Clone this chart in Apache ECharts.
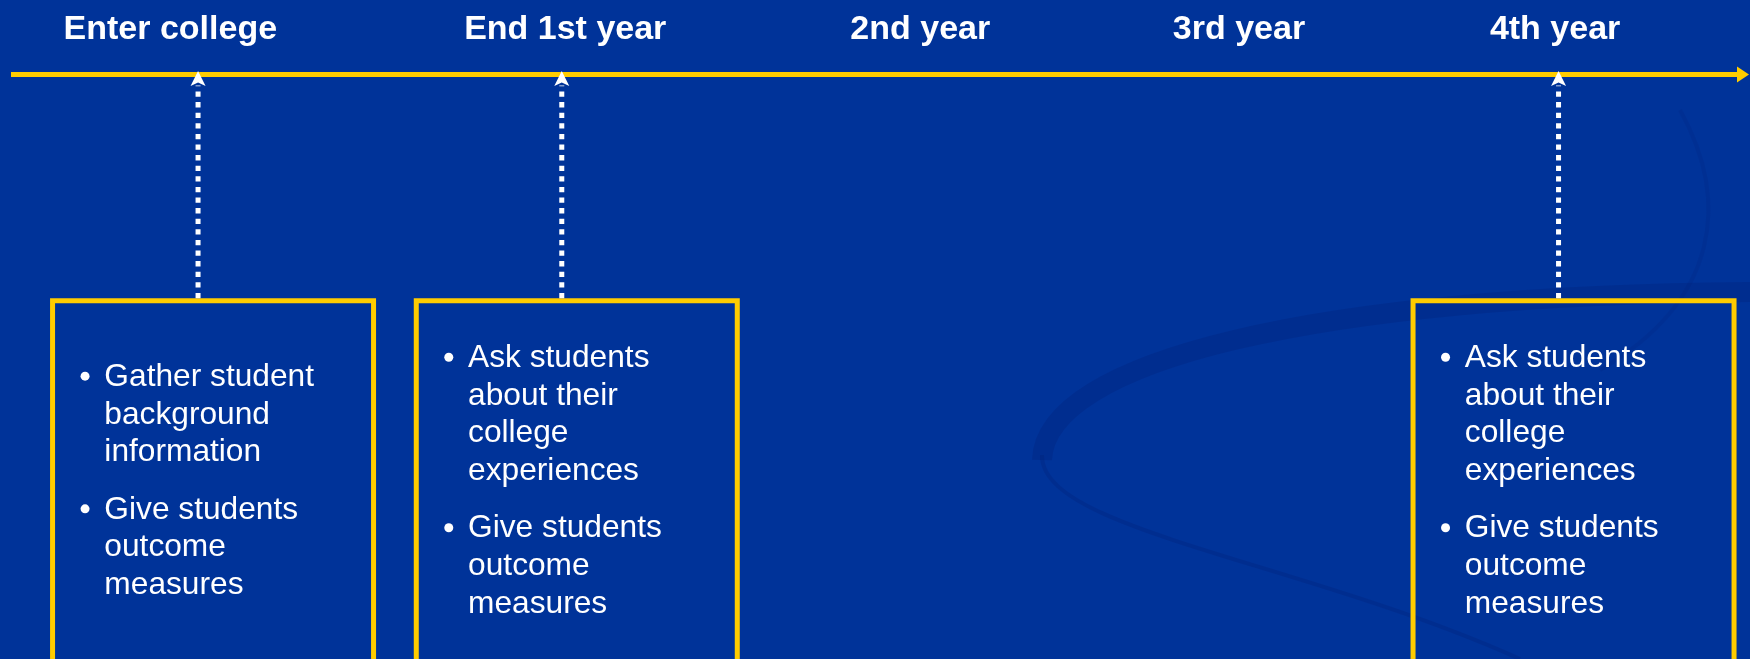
<!DOCTYPE html>
<html lang="en">
<head>
    <meta charset="UTF-8">
    <title>Survey timeline</title>
    <script src="https://cdn.jsdelivr.net/npm/echarts@6/dist/echarts.min.js"></script>
    <style>
        html, body { margin: 0; padding: 0; background: #003399; }
        #main { width: 1750px; height: 659px; }
    </style>
</head>
<body>
    <div id="main"></div>
    <script>
        // stages along the timeline, in percent of the axis
        const stageNames = ['Enter college', 'End 1st year', '2nd year', '3rd year', '4th year'];
        const stageAt = [9.2, 32.0, 52.5, 70.9, 89.15];

        // points where students are surveyed
        const surveyAt = [10.8, 31.8, 89.35];
        const surveyNotes = [
            [['Gather student', 'background', 'information'], ['Give students', 'outcome', 'measures']],
            [['Ask students', 'about their', 'college', 'experiences'], ['Give students', 'outcome', 'measures']],
            [['Ask students', 'about their', 'college', 'experiences'], ['Give students', 'outcome', 'measures']]
        ];

        const yellow = '#FFCC00';
        const font = '"Liberation Sans", Arial, Helvetica, sans-serif';
        const boxDepth = 38.7; // box top, in axis units below the timeline

        const chart = echarts.init(document.getElementById('main'));

        function renderSurvey(params, api) {
            const i = api.value(1);
            const at = api.coord([api.value(0), 0]);
            const cx = at[0];
            const lineY = at[1];
            const boxY = api.coord([api.value(0), boxDepth])[1];
            const boxLeft = cx - 148;
            const children = [];

            // box
            children.push({
                type: 'rect',
                shape: { x: boxLeft + 2.5, y: boxY, width: 321, height: 420 },
                style: { fill: 'none', stroke: yellow, lineWidth: 5 }
            });
            // dotted connector + arrow head
            children.push({
                type: 'line',
                shape: { x1: cx, y1: boxY - 2.5, x2: cx, y2: lineY + 11 },
                style: { stroke: '#fff', lineWidth: 5, lineDash: [5.3, 5.3] }
            });
            children.push({
                type: 'polygon',
                shape: { points: [[cx, lineY - 3.5], [cx + 7.5, lineY + 11.5], [cx, lineY + 8], [cx - 7.5, lineY + 11.5]] },
                style: { fill: '#fff' }
            });

            // bullet text
            const paras = surveyNotes[i];
            const lineH = 37.7, paraGap = 19.6;
            let nLines = 0;
            paras.forEach(p => { nLines += p.length; });
            const span = (nLines - 1) * lineH + (paras.length - 1) * paraGap;
            let base = boxY - 2.5 + 193 - span / 2;
            paras.forEach(p => {
                children.push({
                    type: 'circle',
                    shape: { cx: boxLeft + 35, cy: base - 11, r: 4.5 },
                    style: { fill: '#fff' }
                });
                p.forEach(t => {
                    children.push({
                        type: 'text',
                        style: {
                            x: boxLeft + 54.3, y: base - 10, text: t,
                            fill: '#fff', font: '31.7px ' + font,
                            align: 'left', verticalAlign: 'middle'
                        }
                    });
                    base += lineH;
                });
                base += paraGap;
            });
            return { type: 'group', children: children };
        }

        const swoosh = 'rgba(0, 25, 105, 0.2)';
        const option = {
            backgroundColor: '#003399',
            animation: false,
            graphic: [
                {
                    type: 'bezierCurve', z: -1, silent: true,
                    shape: { x1: 1750, y1: 292, cpx1: 1320, cpy1: 295, cpx2: 1045, cpy2: 360, x2: 1042, y2: 460 },
                    style: { stroke: swoosh, lineWidth: 20, fill: 'none' }
                },
                {
                    type: 'bezierCurve', z: -1, silent: true,
                    shape: { x1: 1042, y1: 455, cpx1: 1040, cpy1: 530, cpx2: 1300, cpy2: 560, x2: 1520, y2: 659 },
                    style: { stroke: swoosh, lineWidth: 4, fill: 'none' }
                },
                {
                    type: 'bezierCurve', z: -1, silent: true,
                    shape: { x1: 1680, y1: 110, cpx1: 1730, cpy1: 200, cpx2: 1720, cpy2: 300, x2: 1600, y2: 370 },
                    style: { stroke: 'rgba(0, 25, 105, 0.12)', lineWidth: 4, fill: 'none' }
                }
            ],
            grid: { left: 11, right: 7, top: 74.5, bottom: 0 },
            xAxis: {
                type: 'value',
                position: 'top',
                min: 0,
                max: 100,
                axisLine: {
                    show: true,
                    symbol: ['none', 'triangle'],
                    symbolSize: [16, 12],
                    lineStyle: { color: yellow, width: 5, cap: 'butt' }
                },
                axisTick: { show: false },
                splitLine: { show: false },
                axisLabel: {
                    customValues: stageAt,
                    formatter: function (v) {
                        const k = stageAt.findIndex(s => Math.abs(s - v) < 1e-6);
                        return k >= 0 ? stageNames[k] : '';
                    },
                    color: '#fff',
                    fontSize: 34,
                    fontWeight: 'bold',
                    fontFamily: font,
                    margin: 28
                }
            },
            yAxis: { type: 'value', min: 0, max: 100, inverse: true, show: false },
            series: [{
                type: 'custom',
                coordinateSystem: 'cartesian2d',
                clip: false,
                silent: true,
                data: surveyAt.map((x, i) => [x, i]),
                renderItem: renderSurvey
            }]
        };
        chart.setOption(option);
    </script>
</body>
</html>
